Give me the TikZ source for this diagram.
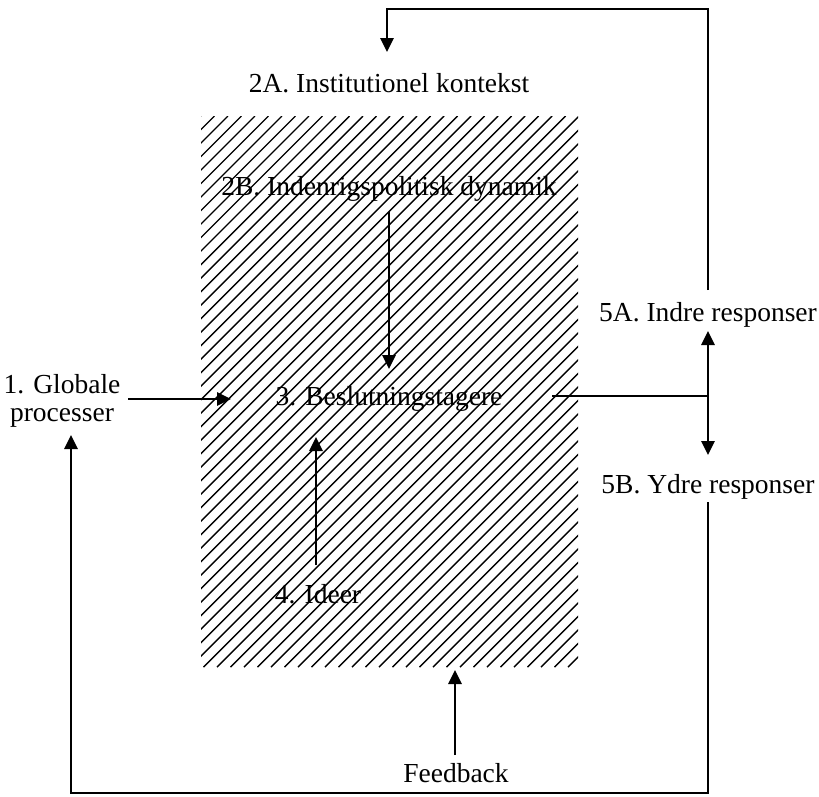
\documentclass[tikz,border=0pt]{standalone}
\usepackage{fontspec}
\setmainfont{Liberation Serif}
\usetikzlibrary{arrows.meta}
\begin{document}
\begin{tikzpicture}[x=1pt,y=-1pt,
  lbl/.style={font=\fontsize{27.5}{28}\selectfont, inner sep=0pt, anchor=base},
  conn/.style={line width=2.8pt, line join=miter},
  arr/.style={conn, -{Triangle[length=14pt,width=13pt]}},
  hatchline/.style={line width=1.4pt}]
\useasboundingbox (0,0) rectangle (819,796);
% hatched field
\begin{scope}
\clip (201,116) rectangle (578,667);
\foreach \k in {0,...,70} { \draw[hatchline] ({-350+\k*13.5},667) -- ++(551,-551); }
\end{scope}
% labels
\node[lbl] (n2a) at (389,92) {2A. Institutionel kontekst};
\node[lbl] (n2b) at (389,195) {2B. Indenrigspolitisk dynamik};
\node[lbl] (n3) at (389,405) {3. Beslutningstagere};
\node[lbl] (n4) at (318,603) {4. Ideer};
\node[lbl, align=center, anchor=center] (n1) at (62,401) {1. Globale\\processer};
\node[lbl] (n5a) at (708,321) {5A. Indre responser};
\node[lbl] (n5b) at (708,493) {5B. Ydre responser};
\node[lbl] (nfb) at (456,782) {Feedback};
% connector points
\coordinate (s5a) at (708,290);
\coordinate (k1) at (708,9);
\coordinate (k2) at (387,9);
\coordinate (e2a) at (387,52);
\coordinate (s2b) at (389,212);
\coordinate (e3top) at (389,369);
\coordinate (s4) at (316,565);
\coordinate (e3bot) at (316,437);
\coordinate (s1) at (128,399);
\coordinate (e3left) at (231,399);
\coordinate (s3) at (552,396);
\coordinate (j) at (708,396);
\coordinate (e5a) at (708,331);
\coordinate (e5b) at (708,455);
\coordinate (s5b) at (708,502);
\coordinate (k3) at (708,793);
\coordinate (k4) at (71,793);
\coordinate (e1) at (71,435);
\coordinate (sfb) at (455,755);
\coordinate (efb) at (455,670);
% connectors
\draw[arr] (s5a) -- (k1) -- (k2) -- (e2a);
\draw[arr] (s2b) -- (e3top);
\draw[arr] (s4) -- (e3bot);
\draw[arr] (s1) -- (e3left);
\draw[conn] (s3) -- (j);
\draw[arr] (j) -- (e5a);
\draw[arr] (j) -- (e5b);
\draw[arr] (s5b) -- (k3) -- (k4) -- (e1);
\draw[arr] (sfb) -- (efb);
\end{tikzpicture}
\end{document}
